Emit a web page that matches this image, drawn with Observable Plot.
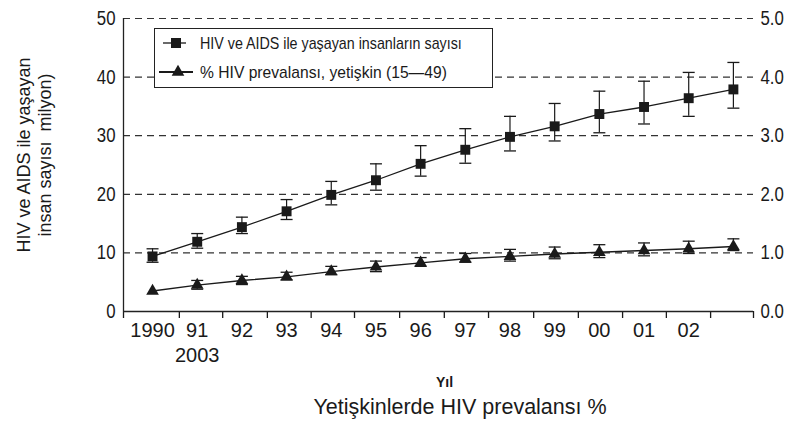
<!DOCTYPE html>
<html>
<head>
<meta charset="utf-8">
<script src="https://cdn.jsdelivr.net/npm/d3@7"></script>
<script src="https://cdn.jsdelivr.net/npm/@observablehq/plot@0.6"></script>
<style>
  body { margin: 0; background: #fff; }
  #wrap { position: relative; width: 795px; height: 430px; background: #fff; font-family: "Liberation Sans", Arial, sans-serif; color: #1a1a1a; }
  #legend { position: absolute; left: 154px; top: 28px; width: 339px; height: 60px; box-sizing: border-box; border: 1.3px solid #222; background: #fff; }
  #legend svg { display: block; }
  #title { position: absolute; left: 460px; top: 397px; transform: translateX(-50%); white-space: nowrap; font-size: 21.5px; line-height: 21.5px; }
</style>
</head>
<body>
<div id="wrap">
  <div id="chart"></div>
  <div id="legend"></div>
  <div id="title"></div>
</div>
<script>
// ---- data ----
const years = [1990, 1991, 1992, 1993, 1994, 1995, 1996, 1997, 1998, 1999, 2000, 2001, 2002, 2003];
const yearLabels = ["1990", "91", "92", "93", "94", "95", "96", "97", "98", "99", "00", "01", "02"];
const strayLabel = "2003";          // printed under "91" in the original
const strayLabelYear = 1991;
// people living with HIV/AIDS (millions), with range
const people     = [9.4, 11.9, 14.4, 17.1, 19.9, 22.4, 25.2, 27.6, 29.8, 31.6, 33.7, 34.9, 36.4, 37.9];
const peopleLow  = [8.4, 10.8, 13.3, 15.7, 18.2, 20.7, 23.1, 25.3, 27.4, 29.1, 30.5, 32.0, 33.3, 34.7];
const peopleHigh = [10.7, 13.3, 16.1, 19.1, 22.2, 25.2, 28.3, 31.2, 33.3, 35.5, 37.6, 39.3, 40.8, 42.5];
// adult HIV prevalence (%), with range
const prevalence = [0.35, 0.45, 0.53, 0.59, 0.68, 0.76, 0.83, 0.90, 0.94, 0.98, 1.01, 1.04, 1.07, 1.11];
const prevLow    = [null, 0.38, 0.46, 0.54, 0.63, 0.68, 0.77, 0.84, 0.86, 0.90, 0.92, 0.95, 0.99, 1.04];
const prevHigh   = [null, 0.53, 0.60, 0.67, 0.77, 0.86, 0.92, 0.99, 1.06, 1.10, 1.14, 1.17, 1.20, 1.24];
// axes
const leftTicks = [0, 10, 20, 30, 40, 50];
const rightTickLabels = ["0.0", "1.0", "2.0", "3.0", "4.0", "5.0"];
const gridValues = [10, 20, 30, 40, 50];
const xDomain = [1989.35, 2003.45];
const xTickMarks = [1989.35, 1990.6, 1991.57, 1992.57, 1993.55, 1994.52, 1995.53, 1996.53, 1997.52, 1998.53, 1999.53, 2000.52, 2001.5, 2002.49, 2003.45];
// texts
const seriesNames = ["HIV ve AIDS ile yaşayan insanların sayısı", "% HIV prevalansı, yetişkin (15—49)"];
const yTitle = "HIV ve AIDS ile yaşayan\ninsan sayısı \u00a0milyon)";
const xTitle = "Yıl";
const bottomTitle = "Yetişkinlerde HIV prevalansı %";

// ---- table ----
const rows = years.map((year, i) => ({
  year, people: people[i], pLo: peopleLow[i], pHi: peopleHigh[i],
  prev: prevalence[i] * 10,
  vLo: prevLow[i] == null ? null : prevLow[i] * 10,
  vHi: prevHigh[i] == null ? null : prevHigh[i] * 10
}));
const prevRows = rows.filter(d => d.vLo != null);

const ink = "#1a1a1a";
const capSymbol = { draw(ctx, size) { const w = 6; ctx.moveTo(-w, 0); ctx.lineTo(w, 0); } };
const regular = '"Liberation Sans", Arial, sans-serif';

const chart = Plot.plot({
  width: 795, height: 390,
  marginLeft: 123, marginRight: 42, marginTop: 18, marginBottom: 79,
  style: { fontFamily: regular, fontSize: "20px", color: ink, background: "white", overflow: "visible" },
  x: { domain: xDomain },
  y: { domain: [0, 50] },
  marks: [
    Plot.ruleY(gridValues, { stroke: "#333", strokeWidth: 1.2, strokeDasharray: "7,5" }),
    Plot.axisY(leftTicks, { anchor: "left", tickSize: 0, tickPadding: 8, label: null }),
    Plot.axisY(leftTicks, { anchor: "right", tickSize: 0, tickPadding: 7, label: null,
      tickFormat: d => rightTickLabels[leftTicks.indexOf(d)] }),
    Plot.axisX(xTickMarks, { tickSize: 7, tickFormat: () => "", label: null, strokeWidth: 1.3 }),
    Plot.ruleY([0], { stroke: "#222", strokeWidth: 1.3 }),
    Plot.ruleX([xDomain[0]], { y1: 0, y2: 50, stroke: "#222", strokeWidth: 1.3 }),
    // year labels
    Plot.text(yearLabels, { x: (d, i) => years[i], frameAnchor: "bottom", dy: 25, fontSize: 20, ariaLabel: "year labels" }),
    Plot.text([strayLabel], { x: [strayLabelYear], frameAnchor: "bottom", dy: 50, fontSize: 20, ariaLabel: "year labels" }),
    Plot.text([xTitle], { frameAnchor: "bottom", dx: 6, dy: 75, fontSize: 14, fontWeight: "bold", ariaLabel: "x title" }),
    Plot.text([yTitle], { frameAnchor: "left", textAnchor: "middle", dx: -90, dy: -10, rotate: -90, fontSize: 18, lineHeight: 1.2 }),
    // people series
    Plot.ruleX(rows, { x: "year", y1: "pLo", y2: "pHi", stroke: ink, strokeWidth: 1.2 }),
    Plot.dot(rows, { x: "year", y: "pLo", symbol: capSymbol, stroke: ink, fill: "none", strokeWidth: 1.3 }),
    Plot.dot(rows, { x: "year", y: "pHi", symbol: capSymbol, stroke: ink, fill: "none", strokeWidth: 1.3 }),
    Plot.line(rows, { x: "year", y: "people", stroke: ink, strokeWidth: 1.3 }),
    Plot.dot(rows, { x: "year", y: "people", symbol: "square", r: 5.6, fill: ink, stroke: "none" }),
    // prevalence series
    Plot.ruleX(prevRows, { x: "year", y1: "vLo", y2: "vHi", stroke: ink, strokeWidth: 1.2 }),
    Plot.dot(prevRows, { x: "year", y: "vLo", symbol: capSymbol, stroke: ink, fill: "none", strokeWidth: 1.3 }),
    Plot.dot(prevRows, { x: "year", y: "vHi", symbol: capSymbol, stroke: ink, fill: "none", strokeWidth: 1.3 }),
    Plot.line(rows, { x: "year", y: "prev", stroke: ink, strokeWidth: 1.4 }),
    Plot.dot(rows, { x: "year", y: "prev", symbol: "triangle", r: 4.7, fill: ink, stroke: "none" })
  ]
});
document.getElementById("chart").appendChild(chart);
d3.select(chart).selectAll('g[aria-label="x title"] text').style("letter-spacing", "2px");

// narrow (condensed) look for numeric labels, like the original's Arial Narrow
function condense(sel, ratio) {
  sel.each(function () {
    const len = this.getComputedTextLength();
    if (len > 0) {
      this.setAttribute("textLength", len * ratio);
      this.setAttribute("lengthAdjust", "spacingAndGlyphs");
    }
  });
}
condense(d3.select(chart).selectAll('g[aria-label="y-axis tick label"] text, g[aria-label="year labels"] text'), 0.84);

// ---- legend ----
const lg = d3.select("#legend").append("svg").attr("width", 337).attr("height", 58);
const sq = 10;
lg.append("line").attr("x1", 8).attr("x2", 31).attr("y1", 14).attr("y2", 14).attr("stroke", ink).attr("stroke-width", 1.3);
lg.append("rect").attr("x", 21 - sq / 2).attr("y", 14 - sq / 2).attr("width", sq).attr("height", sq).attr("fill", ink);
lg.append("line").attr("x1", 4).attr("x2", 38).attr("y1", 43).attr("y2", 43).attr("stroke", ink).attr("stroke-width", 2.2);
lg.append("path").attr("transform", "translate(23,43)").attr("d", d3.symbol(d3.symbolTriangle, Math.PI * 4.7 * 4.7)()).attr("fill", ink);
const legendLengths = [262, 247];
lg.selectAll("text.s").data(seriesNames).join("text")
  .attr("x", 0).attr("y", 0).attr("dy", "0.35em")
  .attr("font-family", regular).attr("font-size", 17).attr("fill", ink)
  .text(d => d)
  .each(function (d, i) {
    const len = this.getComputedTextLength();
    const k = legendLengths[i] / len;
    this.setAttribute("transform", `translate(45,${i === 0 ? 14 : 43}) scale(${k},1)`);
  });

document.getElementById("title").textContent = bottomTitle;
</script>
</body>
</html>
